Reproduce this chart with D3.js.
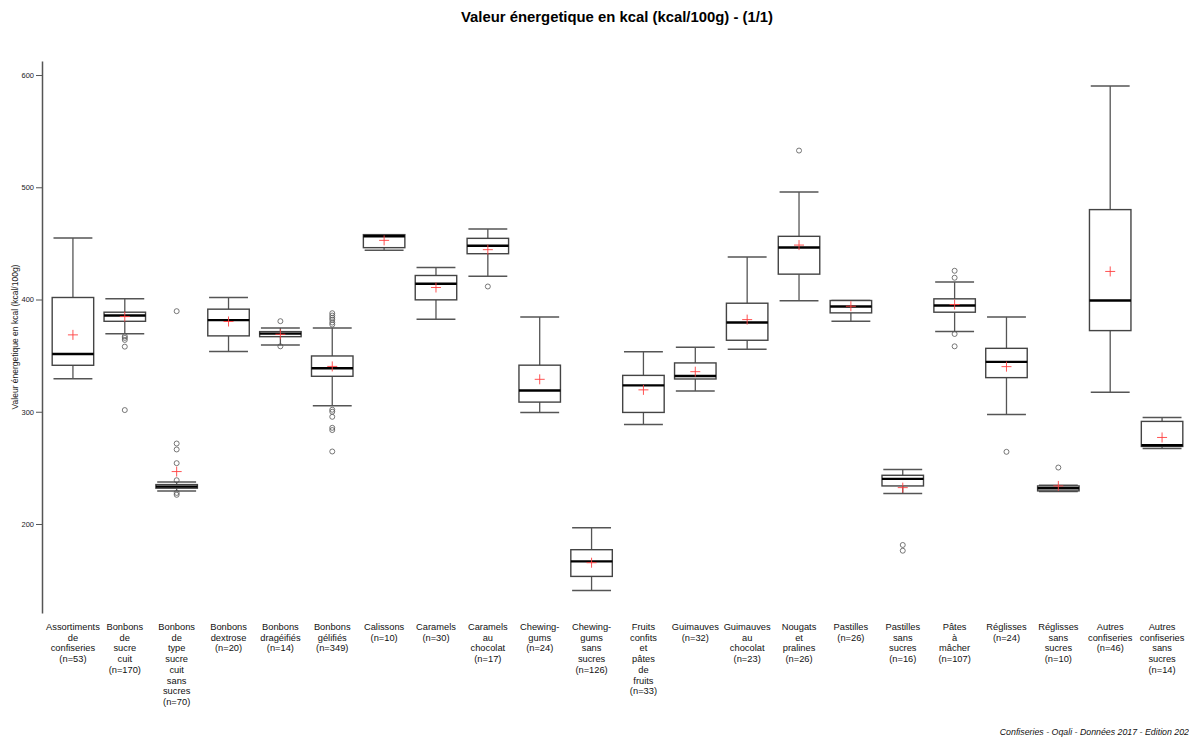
<!DOCTYPE html>
<html>
<head>
<meta charset="utf-8">
<script src="https://cdn.jsdelivr.net/npm/d3@7"></script>
<style>
  html, body { margin: 0; padding: 0; background: #fff; }
  svg { display: block; font-family: "Liberation Sans", Arial, sans-serif; }
</style>
</head>
<body>
<script>
// categories and counts
const categories = [
  "Assortiments de confiseries", "Bonbons de sucre cuit", "Bonbons de type sucre cuit sans sucres",
  "Bonbons dextrose", "Bonbons dragéifiés", "Bonbons gélifiés", "Calissons", "Caramels",
  "Caramels au chocolat", "Chewing-gums", "Chewing-gums sans sucres", "Fruits confits et pâtes de fruits",
  "Guimauves", "Guimauves au chocolat", "Nougats et pralines", "Pastilles", "Pastilles sans sucres",
  "Pâtes à mâcher", "Réglisses", "Réglisses sans sucres", "Autres confiseries", "Autres confiseries sans sucres"
];
const counts = [53, 170, 70, 20, 14, 349, 10, 30, 17, 24, 126, 33, 32, 23, 26, 26, 16, 107, 24, 10, 46, 14];

// box statistics (kcal/100g)
const whiskerLow  = [329.5, 369.6, 229.5, 353.6, 359.5, 305.4, 443.8, 382.5, 420.8, 299.4, 140.8, 288.6, 318.5, 355.6, 398.8, 380.7, 227.1, 371.4, 297.6, 229.0, 317.4, 267.3];
const q1          = [341.4, 380.6, 231.9, 367.6, 366.9, 331.6, 446.2, 399.7, 440.8, 308.6, 153.3, 299.4, 329.2, 363.7, 422.6, 388.1, 233.9, 388.7, 330.4, 229.5, 372.3, 269.1];
const medians     = [351.5, 385.7, 233.3, 381.6, 369.6, 338.7, 456.3, 414.0, 447.9, 318.9, 166.7, 323.5, 331.9, 379.5, 446.4, 393.8, 240.2, 394.6, 344.4, 231.8, 399.1, 270.1];
const q3          = [401.8, 388.7, 235.1, 391.4, 371.4, 349.7, 457.8, 421.4, 454.5, 341.5, 177.1, 332.4, 343.5, 396.7, 456.3, 399.1, 243.4, 400.6, 356.5, 233.9, 480.1, 291.4];
const whiskerHigh = [454.7, 400.6, 237.5, 401.8, 374.7, 374.7, 457.8, 428.6, 462.8, 384.5, 196.7, 353.5, 357.5, 437.8, 495.8, 399.1, 248.5, 415.5, 384.5, 234.5, 590.2, 294.9];
const means       = [368.5, 384.8, 246.7, 380.4, 369.0, 340.4, 452.7, 410.7, 444.4, 328.9, 165.5, 319.5, 335.7, 382.1, 448.5, 394.0, 232.4, 395.5, 340.2, 233.9, 425.0, 277.1];
const outliers = [
  [],
  [367.3, 365.8, 364.0, 358.0, 301.5],
  [389.6, 271.7, 266.4, 254.2, 239.0, 227.7, 226.0],
  [],
  [380.7, 358.3],
  [387.8, 385.7, 383.7, 381.9, 379.5, 377.7, 301.8, 300.0, 295.5, 285.7, 283.7, 264.6],
  [],
  [],
  [411.6],
  [],
  [],
  [],
  [],
  [],
  [532.7],
  [],
  [181.3, 176.2],
  [425.6, 419.4, 369.3, 358.3],
  [264.3],
  [250.3],
  [],
  []
];
const yTicks = [200, 300, 400, 500, 600];

const title = "Valeur énergetique en kcal (kcal/100g) - (1/1)";
const yTitle = "Valeur énergetique en kcal (kcal/100g)";
const footer = "Confiseries - Oqali - Données 2017 - Edition 202";

const onReady = () => {
  const width = 1189;
  const height = 738;

  const svg = d3.select("body")
    .append("svg")
    .attr("width", width)
    .attr("height", height);

  const x = d3.scaleBand().domain(categories).range([47, 1188]).padding(0);
  const y = d3.scaleLinear().domain([120.7, 612.5]).range([613, 61]);

  const boxW = x.bandwidth() * 0.8;
  const capW = x.bandwidth() * 0.75;

  // title
  svg.append("text")
    .attr("x", 617)
    .attr("y", 22)
    .attr("text-anchor", "middle")
    .attr("font-size", 15)
    .attr("font-weight", "bold")
    .attr("textLength", 312)
    .attr("lengthAdjust", "spacingAndGlyphs")
    .text(title);

  // y axis
  const yAxis = svg.append("g")
    .attr("transform", "translate(42,0)")
    .call(d3.axisLeft(y).tickValues(yTicks).tickSize(6).tickSizeOuter(0).tickPadding(2));
  yAxis.select(".domain").attr("stroke", "#555").attr("stroke-width", 1.5);
  yAxis.selectAll(".tick line").attr("stroke", "#555");
  yAxis.selectAll(".tick text").attr("font-size", 7.5).attr("fill", "#222");

  svg.append("text")
    .attr("transform", "translate(18,337) rotate(-90)")
    .attr("text-anchor", "middle")
    .attr("font-size", 8.5)
    .attr("fill", "#222")
    .text(yTitle);

  // boxes
  const rows = categories.map((c, i) => ({
    cat: c, n: counts[i], lo: whiskerLow[i], q1: q1[i], med: medians[i],
    q3: q3[i], hi: whiskerHigh[i], mean: means[i], out: outliers[i]
  }));

  const box = svg.append("g")
    .selectAll("g")
    .data(rows)
    .join("g")
    .attr("transform", d => `translate(${x(d.cat) + x.bandwidth() / 2},0)`);

  // whisker stems
  box.append("line")
    .attr("x1", 0).attr("x2", 0)
    .attr("y1", d => y(d.hi)).attr("y2", d => y(d.q3))
    .attr("stroke", "#555").attr("stroke-width", 1.3);
  box.append("line")
    .attr("x1", 0).attr("x2", 0)
    .attr("y1", d => y(d.q1)).attr("y2", d => y(d.lo))
    .attr("stroke", "#555").attr("stroke-width", 1.3);
  // caps
  box.append("line")
    .attr("x1", -capW / 2).attr("x2", capW / 2)
    .attr("y1", d => y(d.hi)).attr("y2", d => y(d.hi))
    .attr("stroke", "#555").attr("stroke-width", 1.5);
  box.append("line")
    .attr("x1", -capW / 2).attr("x2", capW / 2)
    .attr("y1", d => y(d.lo)).attr("y2", d => y(d.lo))
    .attr("stroke", "#555").attr("stroke-width", 1.5);
  // box
  box.append("rect")
    .attr("x", -boxW / 2)
    .attr("width", boxW)
    .attr("y", d => y(d.q3))
    .attr("height", d => y(d.q1) - y(d.q3))
    .attr("fill", "#fff")
    .attr("stroke", "#444")
    .attr("stroke-width", 1.4);
  // median
  box.append("line")
    .attr("x1", -boxW / 2).attr("x2", boxW / 2)
    .attr("y1", d => y(d.med)).attr("y2", d => y(d.med))
    .attr("stroke", "#000").attr("stroke-width", 2.4);
  // outliers
  box.selectAll("circle")
    .data(d => d.out)
    .join("circle")
    .attr("cx", 0)
    .attr("cy", v => y(v))
    .attr("r", 2.5)
    .attr("fill", "none")
    .attr("stroke", "#555")
    .attr("stroke-width", 0.8);
  // mean cross
  box.append("path")
    .attr("d", d => `M-5,${y(d.mean)}H5M0,${y(d.mean) - 5}V${y(d.mean) + 5}`)
    .attr("stroke", "#ff4040")
    .attr("stroke-width", 0.9)
    .attr("fill", "none");

  // x labels, one word per line
  const labels = box.append("text")
    .attr("text-anchor", "middle")
    .attr("font-size", 9.3)
    .attr("fill", "#111");
  labels.selectAll("tspan")
    .data(d => d.cat.replace(/-/g, "- ").split(" ").concat([`(n=${d.n})`]))
    .join("tspan")
    .attr("x", 0)
    .attr("y", (t, i) => 630 + i * 10.7)
    .text(t => t);

  // footer
  svg.append("text")
    .attr("x", 1189)
    .attr("y", 735)
    .attr("text-anchor", "end")
    .attr("font-size", 8.8)
    .attr("font-style", "italic")
    .attr("fill", "#111")
    .text(footer);
};
document.addEventListener("DOMContentLoaded", onReady);
</script>
</body>
</html>
